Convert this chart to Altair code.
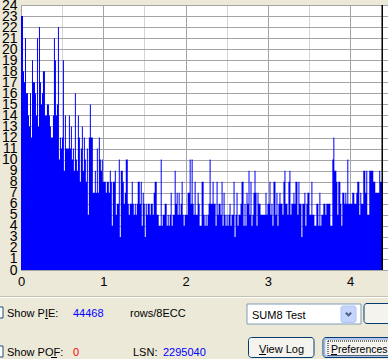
import altair as alt
import pandas as pd

# PIE per sample (sum of 8 ECC blocks), left to right
pie = [
    23, 23, 18, 17, 21, 16, 16, 14, 13, 16,
    12, 19, 17, 17, 16, 14, 21, 13, 22, 17,
    15, 16, 18, 18, 14, 14, 15, 15, 14, 13,
    12, 12, 14, 21, 19, 14, 15, 22, 10, 12,
    11, 12, 19, 9, 14, 11, 11, 11, 14, 11,
    13, 10, 11, 9, 16, 10, 9, 14, 12, 8,
    11, 13, 9, 12, 10, 8, 11, 5, 12, 15,
    12, 12, 7, 7, 9, 7, 11, 7, 12, 10,
    9, 10, 8, 8, 8, 7, 8, 8, 7, 9,
    8, 4, 8, 8, 9, 5, 6, 6, 10, 3,
    9, 9, 8, 6, 7, 10, 10, 6, 5, 6,
    6, 8, 6, 5, 6, 5, 6, 8, 8, 6,
    8, 4, 7, 6, 3, 6, 5, 6, 6, 5,
    6, 6, 5, 7, 8, 8, 5, 5, 4, 4,
    10, 4, 5, 5, 6, 6, 4, 5, 4, 5,
    7, 4, 5, 5, 9, 6, 7, 5, 7, 5,
    6, 8, 5, 4, 5, 5, 5, 7, 7, 10,
    6, 10, 6, 5, 8, 5, 5, 7, 6, 4,
    4, 8, 8, 5, 4, 5, 4, 5, 6, 10,
    6, 6, 8, 6, 6, 4, 8, 5, 6, 6,
    5, 8, 4, 7, 5, 4, 5, 4, 5, 6,
    4, 5, 5, 8, 3, 5, 7, 4, 5, 5,
    6, 8, 8, 4, 6, 4, 7, 6, 9, 5,
    8, 4, 5, 7, 9, 7, 4, 7, 6, 6,
    5, 5, 5, 5, 5, 7, 5, 6, 6, 8,
    5, 6, 4, 8, 8, 5, 7, 4, 6, 7,
    6, 6, 5, 8, 9, 6, 6, 5, 8, 9,
    5, 6, 6, 7, 6, 8, 8, 5, 8, 6,
    6, 3, 6, 6, 7, 4, 6, 7, 7, 5,
    5, 8, 5, 5, 4, 4, 6, 6, 4, 7,
    4, 5, 5, 6, 6, 5, 6, 6, 6, 6,
    4, 4, 10, 12, 9, 9, 8, 5, 8, 8,
    6, 4, 7, 7, 6, 7, 6, 10, 6, 6,
    6, 6, 7, 7, 6, 6, 7, 8, 8, 5,
    7, 6, 6, 9, 9, 7, 9, 5, 5, 9,
    9, 9, 9, 8, 8, 7, 7, 7, 7, 9,
    8, 8,
]
disc_end_gb = 4.39          # end of the scanned area (GB)
x_max_gb = 4.46             # visible x range
x_ticks = [0, 0.5, 1, 1.5, 2, 2.5, 3, 3.5, 4]
y_ticks = list(range(0, 25))

pie_total = "44468"
pof_total = "0"
lsn_value = "2295040"
unit_text = "rows/8ECC"
test_name = "SUM8 Test"

n = len(pie)
step = disc_end_gb / n
rows = [{"pos": i * step, "val": v} for i, v in enumerate(pie)]
rows.append({"pos": n * step, "val": pie[-1]})
df = pd.DataFrame(rows)

FONT = "Liberation Sans"
W, H = 367, 265
OX, OY = 21, 5

xscale = alt.Scale(domain=[0, x_max_gb], nice=False, zero=False)
yscale = alt.Scale(domain=[0, 24], nice=False)

area = alt.Chart(df).mark_area(color="#0000FF", interpolate="step-after", opacity=1).encode(
    x=alt.X("pos:Q", scale=xscale, title=None,
            axis=alt.Axis(values=x_ticks, format="~g",
                          labelExpr="datum.value % 1 === 0 ? datum.label : ''",
                          domain=False, ticks=False, labelPadding=5,
                          labelFontSize=13, labelFont=FONT, labelColor="black",
                          labelFlush=False, labelOverlap=False, gridOpacity=1, gridWidth=1,
                          gridColor={"condition": {"test": "datum.value % 1 === 0", "value": "#A4A4A4"},
                                     "value": "#D4D4D4"})),
    y=alt.Y("val:Q", scale=yscale, title=None, stack=None,
            axis=alt.Axis(values=y_ticks, domain=False, ticks=False, labelPadding=4,
                          labelFontSize=14, labelFont=FONT, labelColor="black",
                          labelOverlap=False, labelFlush=False, labelBound=False,
                          gridColor="#A4A4A4", gridOpacity=1, gridWidth=1)),
)

end_rule = alt.Chart(alt.Data(values=[{"pos": disc_end_gb}])).mark_rule(
    color="black", strokeWidth=1.5).encode(x=alt.X("pos:Q", title=None))

one = alt.Data(values=[{}])


def text(t, X, Y, color="black", size=11, align="left"):
    return alt.Chart(one).mark_text(text=t, align=align, baseline="alphabetic",
                                    fontSize=size, font=FONT, color=color).encode(
        x=alt.value(X - OX), y=alt.value(Y - OY))


def box(X0, Y0, X1, Y1, fill="white", stroke="#7F9DB9", radius=0, sw=1, dash=None, fo=1):
    kw = dict(fill=fill, stroke=stroke, cornerRadius=radius, strokeWidth=sw, fillOpacity=fo)
    if dash:
        kw["strokeDash"] = dash
    return alt.Chart(one).mark_rect(**kw).encode(
        x=alt.value(X0 - OX), x2=alt.value(X1 - OX),
        y=alt.value(Y0 - OY), y2=alt.value(Y1 - OY))


def hline(X0, X1, Y, color, sw=1):
    return alt.Chart(one).mark_rule(color=color, strokeWidth=sw).encode(
        x=alt.value(X0 - OX), x2=alt.value(X1 - OX), y=alt.value(Y - OY))


ui = [
    hline(0, 388, 296.5, "#C5C2B2"),
    hline(0, 388, 297.5, "#FFFFFF"),
    # checkboxes (cut at the left edge)
    box(-8, 307, 3, 318, fill="white", stroke="#1C5180"),
    box(-8, 346, 3, 357, fill="white", stroke="#1C5180"),
    text("Show PIE:", 7, 317),
    hline(45, 48, 318.5, "black"),
    text(pie_total, 73, 317, color="#0000FF"),
    text(unit_text, 130, 317),
    text("Show POF:", 7, 356),
    hline(51, 57, 357.5, "black"),
    text(pof_total, 73, 356, color="#FF0000"),
    text("LSN:", 133, 356),
    text(lsn_value, 163, 356, color="#0000FF"),
    # combo box
    box(247, 304, 361, 324, fill="white", stroke="#7F9DB9"),
    box(341, 306, 356, 322.5, fill="#C4D4FC", stroke="#B0C4F2", radius=2),
    alt.Chart(one).mark_point(shape="M-1,-0.5L0,0.5L1,-0.5", filled=False, stroke="#4D6185",
                              strokeWidth=2, size=28, opacity=1).encode(
        x=alt.value(348.5 - OX), y=alt.value(314 - OY)),
    text(test_name, 252, 318.5),
    # partly visible button on the right
    box(364, 303.5, 400, 323.5, fill="#F4F3EE", stroke="#003C74", radius=3),
    # buttons
    box(248.5, 337.5, 314, 357.5, fill="#F4F3EE", stroke="#003C74", radius=3),
    text("View Log", 259, 352.5),
    hline(259, 266, 354.5, "black"),
    box(323, 337.5, 400, 357.5, fill="#F4F3EE", stroke="#003C74", radius=3),
    box(324.5, 339, 400, 356, fill="#F4F3EE", stroke="#9DB6EC", radius=2, sw=1.5, fo=0),
    box(328, 341, 400, 355.5, fill="white", stroke="#000000", dash=[1, 1], fo=0),
    text("Preferences", 331, 352.5, size=10.5),
    hline(331, 337, 354.5, "black"),
]

chart = alt.layer(area, end_rule, *ui).properties(
    width=W, height=H,
    autosize=alt.AutoSizeParams(type="none"),
    padding={"left": OX, "top": OY, "right": 0, "bottom": 359 - OY - H},
    background="#ECE9D8",
).configure_view(stroke="#A4A4A4", fill="white", strokeWidth=1)

chart.save("out.html", embed_options={"renderer": "svg", "actions": False})
